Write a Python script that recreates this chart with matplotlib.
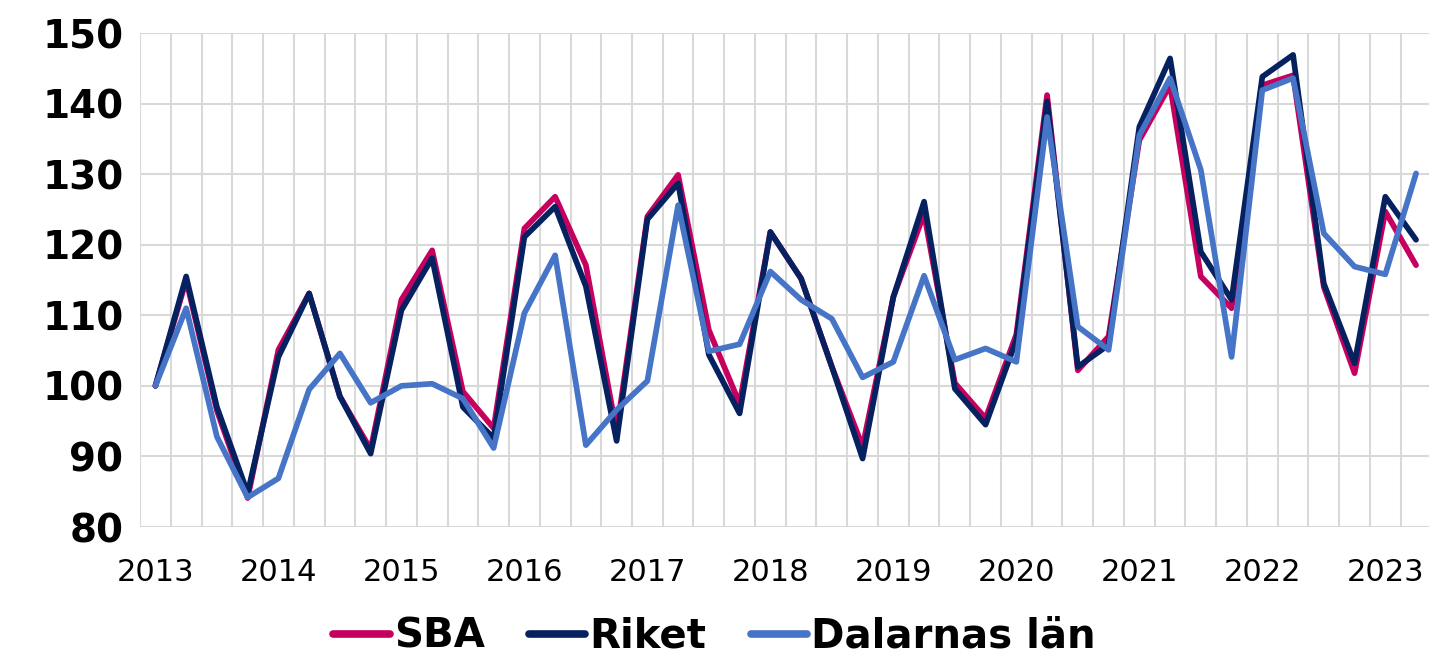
import matplotlib
matplotlib.use('Agg')
from matplotlib import pyplot as plt
from matplotlib.ticker import MultipleLocator, FixedLocator
import numpy as np

########
# DATA #
########

years = list(range(2013, 2024))
n_quarters = 42  # 2013 Q1 .. 2023 Q2

sba = [100.0, 115.0, 96.5, 84.1, 105.1, 113.1, 98.5, 91.0, 112.2, 119.2,
       99.2, 94.0, 122.3, 126.8, 117.1, 93.5, 124.0, 129.9, 107.9, 97.5,
       121.8, 115.2, 102.7, 91.4, 112.6, 124.4, 100.4, 95.4, 107.3, 141.2,
       102.2, 107.0, 134.8, 142.6, 115.5, 111.0, 142.6, 144.0, 114.0, 101.8,
       124.7, 117.1]
riket = [100.0, 115.5, 97.0, 84.8, 104.1, 113.1, 98.5, 90.4, 110.7, 118.1,
         97.0, 92.6, 121.1, 125.4, 114.1, 92.2, 123.6, 128.7, 104.4, 96.1,
         121.8, 115.2, 102.7, 89.7, 112.6, 126.1, 99.6, 94.5, 106.5, 140.3,
         102.7, 105.8, 136.7, 146.4, 119.0, 112.2, 143.8, 146.9, 114.5, 103.2,
         126.8, 120.7]
dalarna = [100.0, 111.0, 92.8, 84.2, 86.9, 99.5, 104.6, 97.6, 100.0, 100.3,
           98.2, 91.2, 110.3, 118.5, 91.6, 96.6, 100.7, 125.6, 104.9, 105.9,
           116.2, 112.2, 109.5, 101.2, 103.4, 115.6, 103.7, 105.3, 103.4, 138.1,
           108.4, 105.1, 135.5, 143.6, 130.6, 104.1, 141.9, 143.6, 121.6, 116.9,
           115.8, 130.1]

labels = ['SBA', 'Riket', 'Dalarnas län']
colors = ['#C6005E', '#06215F', '#4674C6']

########
# PLOT #
########

fig = plt.figure(figsize=(14.29, 6.6), dpi=100)
ax = fig.add_axes([0.098, 0.2015, 0.9037, 0.7485])

x = np.arange(n_quarters)
for series, lab, col in zip([sba, riket, dalarna], labels, colors):
    ax.plot(x, series, color=col, lw=4.1, label=lab,
            solid_joinstyle='round', solid_capstyle='round')

ax.set_xlim(-0.5, n_quarters - 0.5)
ax.set_ylim(80, 150)

# gridlines sit between the quarters, labels on Q1 of each year
ax.xaxis.set_minor_locator(FixedLocator(np.arange(-0.5, n_quarters, 1)))
ax.xaxis.set_major_locator(FixedLocator(np.arange(0, n_quarters, 4)))
ax.set_xticklabels([str(y) for y in years], fontsize=22)
ax.yaxis.set_major_locator(MultipleLocator(10))
for t in ax.get_yticklabels():
    t.set_fontsize(28)
    t.set_fontweight('bold')

ax.grid(which='minor', axis='x', color='#d9d9d9', lw=1.5)
ax.grid(which='major', axis='y', color='#d9d9d9', lw=1.5)
ax.set_axisbelow(True)
ax.tick_params(which='both', length=0)
ax.tick_params(axis='x', pad=22)
ax.tick_params(axis='y', pad=12)
for sp in ax.spines.values():
    sp.set_visible(False)

leg = fig.legend(loc='lower center', bbox_to_anchor=(0.5, -0.05), ncol=3,
                 frameon=False, handlelength=1.4, handletextpad=0.1,
                 columnspacing=1.1, prop={'weight': 'bold', 'size': 29})
for h in leg.legend_handles:
    h.set_linewidth(5.5)

fig.savefig('out.png', dpi=100)
plt.close()
